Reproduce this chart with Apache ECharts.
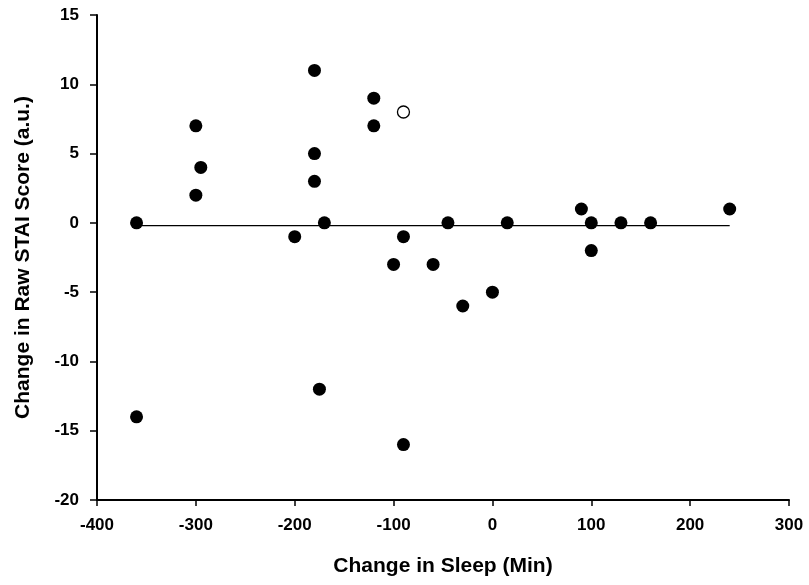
<!DOCTYPE html>
<html>
<head>
<meta charset="utf-8">
<script src="https://cdn.jsdelivr.net/npm/echarts@6/dist/echarts.min.js"></script>
<style>html,body{margin:0;padding:0;background:#fff}#chart{width:809px;height:585px}</style>
</head>
<body>
<div id="chart"></div>
<script>
// Filled points: change in sleep (min) and change in raw STAI score
const sleepChange = [-360, -360, -300, -300, -295, -200, -180, -180, -180, -170, -175, -120, -120, -90, -100, -90, -60, -45, -30, 0, 15, 90, 100, 100, 130, 160, 240];
const staiChange  = [0, -14, 7, 2, 4, -1, 11, 5, 3, 0, -12, 9, 7, -1, -3, -16, -3, 0, -6, -5, 0, 1, 0, -2, 0, 0, 1];
// Open (excluded) point
const openSleep = [-90];
const openStai = [8];
// Fit line endpoints
const fitX = [-360, 240];
const fitY = [-0.2, -0.2];

const xTicks = [-400, -300, -200, -100, 0, 100, 200, 300];
const yTicks = [-20, -15, -10, -5, 0, 5, 10, 15];

const font = 'Liberation Sans, Arial, sans-serif';
const chart = echarts.init(document.getElementById('chart'));
chart.setOption({
  animation: false,
  backgroundColor: '#fff',
  grid: { left: 97, right: 20, top: 15, bottom: 85 },
  xAxis: {
    type: 'value', min: xTicks[0], max: xTicks[xTicks.length - 1], interval: 100,
    name: 'Change in Sleep (Min)', nameLocation: 'middle', nameGap: 56,
    nameTextStyle: { fontFamily: font, fontWeight: 'bold', fontSize: 21, color: '#000' },
    axisLine: { onZero: false, lineStyle: { color: '#000', width: 2 } },
    axisTick: { show: true, length: 6, lineStyle: { color: '#000', width: 1.5 } },
    axisLabel: { fontFamily: font, fontWeight: 'bold', fontSize: 17, color: '#000', margin: 17 },
    splitLine: { show: false }
  },
  yAxis: {
    type: 'value', min: yTicks[0], max: yTicks[yTicks.length - 1], interval: 5,
    name: 'Change in Raw STAI Score (a.u.)', nameLocation: 'middle', nameGap: 63,
    nameTextStyle: { fontFamily: font, fontWeight: 'bold', fontSize: 21, color: '#000' },
    axisLine: { onZero: false, lineStyle: { color: '#000', width: 2 } },
    axisTick: { show: true, length: 7, lineStyle: { color: '#000', width: 1.5 } },
    axisLabel: { fontFamily: font, fontWeight: 'bold', fontSize: 17, color: '#000', margin: 18 },
    splitLine: { show: false }
  },
  series: [
    {
      type: 'line', data: fitX.map((x, i) => [x, fitY[i]]), symbol: 'none',
      lineStyle: { color: '#000', width: 1.3 }, z: 1
    },
    {
      type: 'scatter', data: sleepChange.map((x, i) => [x, staiChange[i]]),
      symbol: 'circle', symbolSize: 13, itemStyle: { color: '#000', opacity: 1 }, z: 3
    },
    {
      type: 'scatter', data: openSleep.map((x, i) => [x, openStai[i]]),
      symbol: 'circle', symbolSize: 12, itemStyle: { color: '#fff', borderColor: '#000', borderWidth: 1.3, opacity: 1 }, z: 3
    }
  ]
});
</script>
</body>
</html>
